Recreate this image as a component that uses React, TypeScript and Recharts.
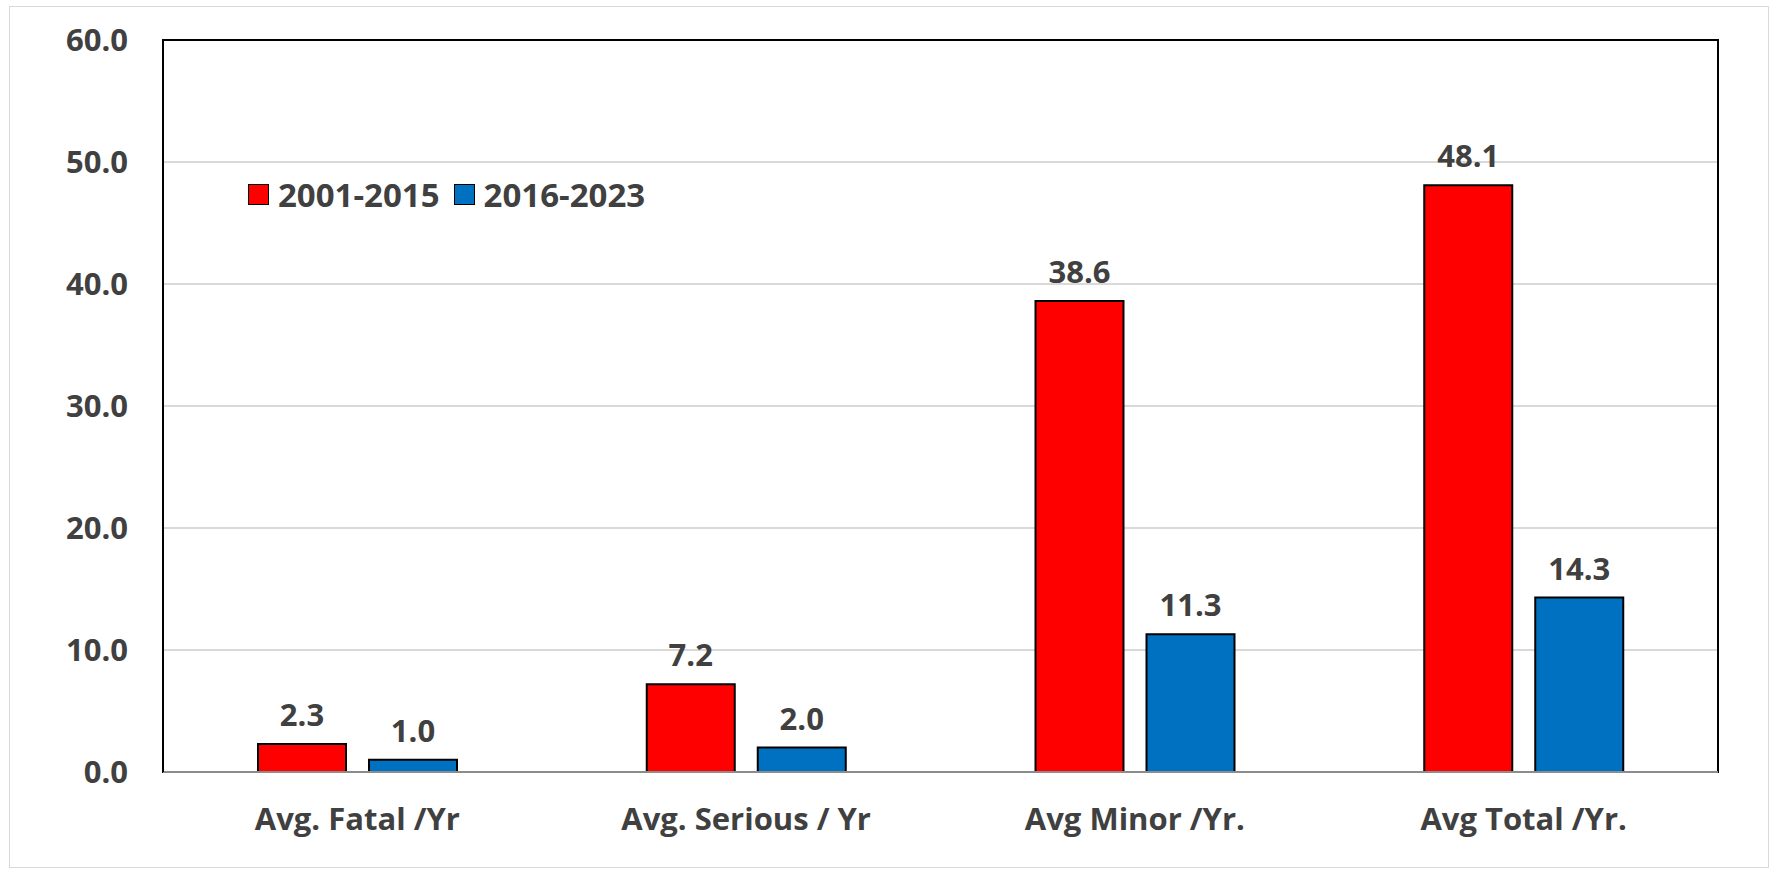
import { Bar, BarChart, CartesianGrid, LabelList, ReferenceArea, XAxis, YAxis } from "recharts";

const categories = ["Avg. Fatal /Yr", "Avg. Serious / Yr", "Avg Minor /Yr.", "Avg Total /Yr."];
const period2001to2015 = [2.3, 7.2, 38.6, 48.1];
const period2016to2023 = [1.0, 2.0, 11.3, 14.3];
const yTicks = [0, 10, 20, 30, 40, 50, 60];

const seriesInfo = [
  { key: "p1", name: "2001-2015", color: "#ff0000" },
  { key: "p2", name: "2016-2023", color: "#0070c0" },
];

const data = categories.map((c, i) => ({ cat: c, p1: period2001to2015[i], p2: period2016to2023[i] }));

const font = "'Open Sans', Lato, sans-serif";
const textColor = "#404040";
const fontSize = 31;
const fmt = (v: any) => Number(v).toFixed(1);

function LegendBox() {
  return (
    <div
      style={{
        position: "absolute",
        left: 248,
        top: 172,
        display: "flex",
        alignItems: "center",
        fontFamily: font,
        fontWeight: 700,
        fontSize: 33,
        color: textColor,
        whiteSpace: "nowrap",
      }}
    >
      {seriesInfo.map((s, i) => (
        <div key={s.key} style={{ display: "flex", alignItems: "center", marginRight: i === 0 ? 14 : 0 }}>
          <div style={{ width: 19, height: 19, background: s.color, border: "1.5px solid #000", marginRight: 9 }} />
          <span>{s.name}</span>
        </div>
      ))}
    </div>
  );
}

export default function App() {
  const tickStyle = { fill: textColor, fontSize, fontWeight: 700, fontFamily: font };
  return (
    <div style={{ position: "absolute", left: 0, top: 0, width: 1773, height: 871, background: "#fff" }}>
      <div style={{ position: "absolute", left: 9, top: 6, width: 1758, height: 860, border: "1.5px solid #d9d9d9" }} />
      <BarChart
        width={1773}
        height={871}
        data={data}
        margin={{ top: 40, right: 55, bottom: 39, left: 0 }}
        barGap={23}
        style={{ position: "absolute", left: 0, top: 0 }}
      >
        <CartesianGrid vertical={false} stroke="#d9d9d9" strokeWidth={2} />
        <ReferenceArea y1={0} y2={60} fill="none" stroke="#000" strokeWidth={2} ifOverflow="visible" />
        <XAxis
          dataKey="cat"
          height={60}
          tickLine={false}
          tickSize={0}
          tickMargin={36}
          axisLine={{ stroke: "#8c8c8c", strokeWidth: 2 }}
          tick={tickStyle}
          interval={0}
        />
        <YAxis
          width={163}
          domain={[0, 60]}
          ticks={yTicks}
          tickFormatter={fmt}
          tickLine={false}
          tickSize={0}
          tickMargin={35}
          axisLine={{ stroke: "#000", strokeWidth: 2 }}
          tick={tickStyle}
        />
        {seriesInfo.map((s) => (
          <Bar
            key={s.key}
            dataKey={s.key}
            name={s.name}
            fill={s.color}
            stroke="#000"
            strokeWidth={2}
            barSize={88}
            isAnimationActive={false}
          >
            <LabelList dataKey={s.key} position="top" offset={18} formatter={fmt} style={tickStyle} />
          </Bar>
        ))}
      </BarChart>
      <LegendBox />
    </div>
  );
}
